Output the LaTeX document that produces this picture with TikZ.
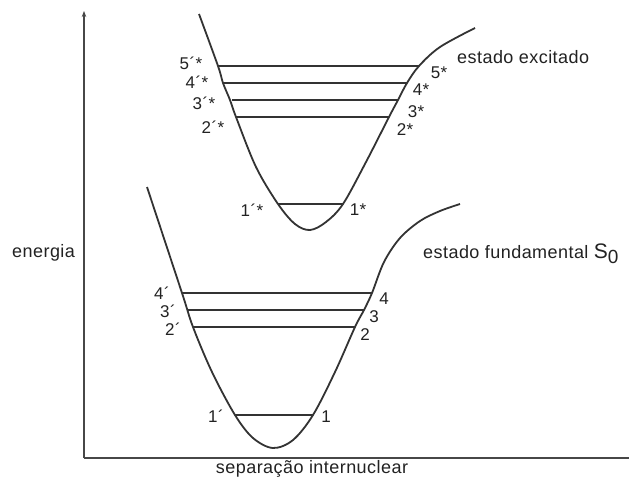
\documentclass[tikz,border=0pt]{standalone}
\usepackage{fontspec}
\setmainfont{Liberation Sans}[LetterSpace=2.5]
\usetikzlibrary{arrows.meta}
\definecolor{ink}{HTML}{333333}
\definecolor{txt}{HTML}{222222}
\begin{document}
\begin{tikzpicture}[x=1pt,y=-1pt,
  curve/.style={draw=ink,line width=1.8pt,line join=round},
  level/.style={draw=ink,line width=1.2pt},
  axis/.style={draw=ink!90,line width=1.8pt},
  lbl/.style={text=txt,inner sep=0pt,font=\fontsize{17}{19}\selectfont},
  big/.style={text=txt,inner sep=0pt,font=\fontsize{18}{21}\selectfont}]
\useasboundingbox[fill=white] (0,0) rectangle (629,477);
% axes
\coordinate (O) at (84,458);
\coordinate (Ytop) at (84,11);
\coordinate (Xend) at (629,458);
\draw[axis,-{Stealth[length=6pt,width=4.5pt]}] (O) -- (Ytop);
\draw[axis] (O) -- (Xend);
% ground state curve
\draw[curve] plot[smooth,tension=0.55] coordinates {
 (147,187) (182,293) (193,327) (212,372) (235,415) (253,438) (273,448)
 (293,440) (313,415) (335,372) (355,327) (364,310) (372,293)
 (384,262) (400,238) (420,221) (440,211) (460,204)};
% excited state curve
\draw[curve] plot[smooth,tension=0.55] coordinates {
 (199,14) (218,66) (223,83) (230,100) (236,117) (256,167) (278,204) (295,224) (310,230)
 (326,222) (343,204) (366,162) (389,117) (398,100) (407,83) (419,66)
 (440,47) (475,28)};
% ground levels
\coordinate (g4l) at (182,293); \coordinate (g4r) at (372,293);
\coordinate (g3l) at (187,310); \coordinate (g3r) at (364,310);
\coordinate (g2l) at (193,327); \coordinate (g2r) at (355,327);
\coordinate (g1l) at (235,415); \coordinate (g1r) at (313,415);
\draw[level] (g4l) -- (g4r);
\draw[level] (g3l) -- (g3r);
\draw[level] (g2l) -- (g2r);
\draw[level] (g1l) -- (g1r);
% excited levels
\coordinate (e5l) at (218,66); \coordinate (e5r) at (419,66);
\coordinate (e4l) at (223,83); \coordinate (e4r) at (407,83);
\coordinate (e3l) at (232,100); \coordinate (e3r) at (398,100);
\coordinate (e2l) at (236,117); \coordinate (e2r) at (389,117);
\coordinate (e1l) at (278,204); \coordinate (e1r) at (343,204);
\draw[level] (e5l) -- (e5r);
\draw[level] (e4l) -- (e4r);
\draw[level] (e3l) -- (e3r);
\draw[level] (e2l) -- (e2r);
\draw[level] (e1l) -- (e1r);
% ground labels
\node[lbl] (l4p) at (162,293) {4´};
\node[lbl] (l3p) at (168,311) {3´};
\node[lbl] (l2p) at (173,329) {2´};
\node[lbl] (l1p) at (216,416) {1´};
\node[lbl] (l4) at (384,299) {4};
\node[lbl] (l3) at (374,317) {3};
\node[lbl] (l2) at (365,335) {2};
\node[lbl] (l1) at (326,417) {1};
% excited labels
\node[lbl] (u5p) at (191,63) {5´*};
\node[lbl] (u4p) at (197,82) {4´*};
\node[lbl] (u3p) at (204,103) {3´*};
\node[lbl] (u2p) at (213,127) {2´*};
\node[lbl] (u1p) at (252,210) {1´*};
\node[lbl] (u5) at (439,73) {5*};
\node[lbl] (u4) at (421,90) {4*};
\node[lbl] (u3) at (416,112) {3*};
\node[lbl] (u2) at (405,130) {2*};
\node[lbl] (u1) at (358,210) {1*};
% titles
\node[big,anchor=base west] (exc) at (457,63) {estado excitado};
\node[big,anchor=base west] (fund) at (423,258) {estado fundamental {\fontsize{21}{24}\selectfont S}\raisebox{-5.5pt}{\fontsize{19}{21}\selectfont 0}};
\node[big,anchor=base west] (en) at (12,257) {energia};
\node[big,anchor=base] (sep) at (312,473) {separação internuclear};
\end{tikzpicture}
\end{document}
